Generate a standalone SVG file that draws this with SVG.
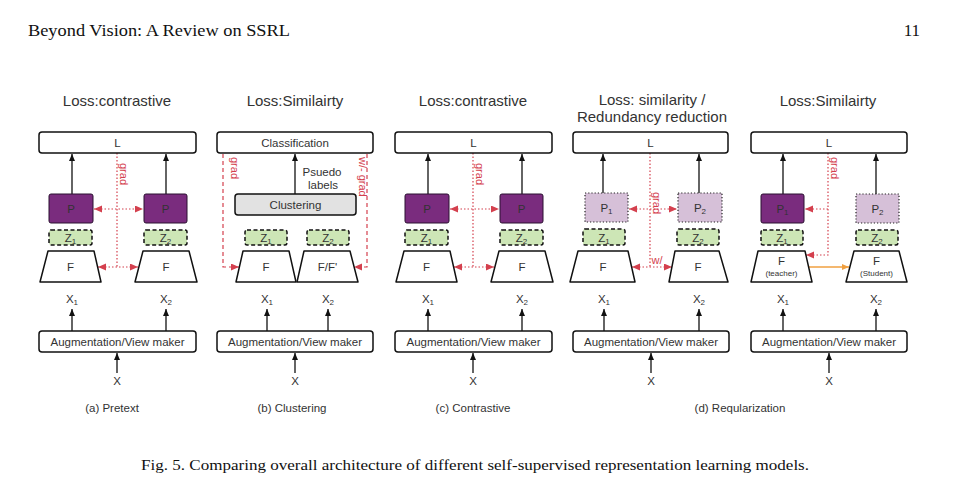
<svg xmlns="http://www.w3.org/2000/svg" width="976" height="489" viewBox="0 0 976 489">
<style>
.t{font-family:"Liberation Sans",Arial,sans-serif;fill:#333;text-anchor:middle}
.ti{font-size:15px}
.n{font-size:11.5px}
.sm{font-size:8px}
.box{fill:#fff;stroke:#111;stroke-width:1.5}
.pd{fill:#7a2c7e;stroke:#2a1030;stroke-width:1}
.pl{fill:#d6c0d8;stroke:#222;stroke-width:1.2;stroke-dasharray:1.2 2}
.z{fill:#cde6b6;stroke:#111;stroke-width:1.5;stroke-dasharray:4 2.5}
.f{fill:#fff;stroke:#111;stroke-width:1.5;stroke-linejoin:round}
.cl{fill:#e2e2e2;stroke:#111;stroke-width:1.5}
.a{stroke:#111;stroke-width:1.3;fill:none;marker-end:url(#ab)}
.r{stroke:#d4404e;stroke-width:1.2;fill:none;stroke-dasharray:1.5 2}
.rd{stroke:#d4404e;stroke-width:1.2;fill:none;stroke-dasharray:4 3}
.re{marker-end:url(#ar)}
.rs{marker-start:url(#ar)}
.rt{font-family:"Liberation Sans",Arial,sans-serif;fill:#d4404e;font-size:11px}
.serif{font-family:"Liberation Serif","Times New Roman",serif;fill:#111}
</style>
<defs>
<marker id="ab" markerUnits="userSpaceOnUse" markerWidth="8" markerHeight="8" refX="7" refY="3" orient="auto"><path d="M0,0 L7,3 L0,6 z" fill="#111"/></marker>
<marker id="ar" markerUnits="userSpaceOnUse" markerWidth="9" markerHeight="8" refX="8" refY="3.5" orient="auto-start-reverse"><path d="M0,0 L8,3.5 L0,7 z" fill="#d4404e"/></marker>
<marker id="ao" markerUnits="userSpaceOnUse" markerWidth="8" markerHeight="8" refX="7" refY="3" orient="auto"><path d="M0,0 L7,3 L0,6 z" fill="#f0a040"/></marker>
</defs>
<rect width="976" height="489" fill="#fff"/>
<g id="header">
<text class="serif" x="28" y="36" font-size="17" textLength="262" lengthAdjust="spacingAndGlyphs">Beyond Vision: A Review on SSRL</text>
<text class="serif" x="920" y="36" font-size="17" text-anchor="end">11</text>
</g>
<g id="caption"><text class="serif" x="141" y="470" font-size="14" textLength="668" lengthAdjust="spacingAndGlyphs">Fig. 5.  Comparing overall architecture of different self-supervised representation learning models.</text></g>

<g id="connectors">
<!-- panel a -->
<line class="a" x1="72" y1="194" x2="72" y2="154"/>
<line class="a" x1="166" y1="194" x2="166" y2="154"/>
<line class="a" x1="72" y1="331" x2="72" y2="309"/>
<line class="a" x1="166" y1="331" x2="166" y2="309"/>
<line class="a" x1="117" y1="373" x2="117" y2="353"/>
<line class="r" x1="117" y1="153" x2="117" y2="267"/>
<line class="r rs re" x1="94" y1="209" x2="143" y2="209"/>
<line class="r rs re" x1="98" y1="267" x2="138" y2="267"/>
<!-- panel b -->
<line class="a" x1="295" y1="194" x2="295" y2="154"/>
<line class="a" x1="267" y1="331" x2="267" y2="309"/>
<line class="a" x1="328" y1="331" x2="328" y2="309"/>
<line class="a" x1="295" y1="373" x2="295" y2="353"/>
<polyline class="rd re" points="223,154 223,267 239,267"/>
<polyline class="rd re" points="367,154 367,267 354,267"/>
<!-- panel c -->
<line class="a" x1="428" y1="194" x2="428" y2="154"/>
<line class="a" x1="522" y1="194" x2="522" y2="154"/>
<line class="a" x1="428" y1="331" x2="428" y2="309"/>
<line class="a" x1="522" y1="331" x2="522" y2="309"/>
<line class="a" x1="473" y1="373" x2="473" y2="353"/>
<line class="r" x1="473" y1="153" x2="473" y2="267"/>
<line class="r rs re" x1="450" y1="209" x2="499" y2="209"/>
<line class="r rs re" x1="454" y1="267" x2="494" y2="267"/>
<!-- panel d -->
<line class="a" x1="603" y1="193" x2="603" y2="154"/>
<line class="a" x1="699" y1="193" x2="699" y2="154"/>
<line class="a" x1="604" y1="331" x2="604" y2="309"/>
<line class="a" x1="699" y1="331" x2="699" y2="309"/>
<line class="a" x1="651" y1="373" x2="651" y2="353"/>
<line class="r" x1="650" y1="153" x2="650" y2="267"/>
<line class="r rs re" x1="629" y1="209" x2="677" y2="209"/>
<line class="r rs re" x1="632" y1="267" x2="672" y2="267"/>
<!-- panel e -->
<line class="a" x1="783" y1="194" x2="783" y2="154"/>
<line class="a" x1="876" y1="194" x2="876" y2="154"/>
<line class="a" x1="783" y1="331" x2="783" y2="309"/>
<line class="a" x1="876" y1="331" x2="876" y2="309"/>
<line class="a" x1="829" y1="373" x2="829" y2="353"/>
<polyline class="r re" points="828,153 828,255 806,255"/>
<line class="r re" x1="828" y1="209" x2="805" y2="209"/>
<line x1="809" y1="267" x2="849" y2="267" stroke="#f0a040" stroke-width="1.3" marker-end="url(#ao)"/>
</g>

<g id="edge-labels">
<text class="rt" transform="translate(119.5,163) rotate(90)">grad</text>
<text class="rt" transform="translate(231,157) rotate(90)">grad</text>
<text class="rt" transform="translate(359,157) rotate(90)">w/- grad</text>
<text class="rt" transform="translate(475.5,163) rotate(90)">grad</text>
<text class="rt" transform="translate(653,192) rotate(90)">grad</text>
<text class="rt" x="657" y="264" font-size="6.5" text-anchor="middle">w/</text>
<text class="rt" transform="translate(831,157) rotate(90)">grad</text>
<text class="t n" x="322" y="176">Psuedo</text>
<text class="t n" x="323" y="189">labels</text>
</g>

<!-- Panel a -->
<g id="a-title"><text class="t ti" x="117" y="106">Loss:contrastive</text></g>
<g id="a-L"><rect class="box" x="39" y="132" width="157" height="21" rx="3"/><text class="t n" x="117.5" y="147">L</text></g>
<g id="a-P1"><rect class="pd" x="49" y="194" width="44" height="29" rx="2"/><text class="t n" x="71" y="213">P</text></g>
<g id="a-P2"><rect class="pd" x="144" y="194" width="43" height="29" rx="2"/><text class="t n" x="165.5" y="213">P</text></g>
<g id="a-Z1"><rect class="z" x="49" y="230" width="43" height="15" rx="2"/><text class="t n" x="70.5" y="242">Z<tspan font-size="8" dy="2">1</tspan></text></g>
<g id="a-Z2"><rect class="z" x="144" y="230" width="43" height="15" rx="2"/><text class="t n" x="165.5" y="242">Z<tspan font-size="8" dy="2">2</tspan></text></g>
<g id="a-F1"><polygon class="f" points="48,251 94,251 101,282 40,282"/><text class="t n" x="70.5" y="271">F</text></g>
<g id="a-F2"><polygon class="f" points="143,251 189,251 197,282 135,282"/><text class="t n" x="166" y="271">F</text></g>
<g id="a-X1"><text class="t n" x="72" y="303">X<tspan font-size="8" dy="2">1</tspan></text></g>
<g id="a-X2"><text class="t n" x="166" y="303">X<tspan font-size="8" dy="2">2</tspan></text></g>
<g id="a-aug"><rect class="box" x="39" y="331" width="157" height="21" rx="3"/><text class="t n" x="117.5" y="346">Augmentation/View maker</text></g>
<g id="a-X"><text class="t n" x="117" y="385">X</text></g>
<g id="a-cap"><text class="t n" x="112" y="412">(a) Pretext</text></g>

<!-- Panel b -->
<g id="b-title"><text class="t ti" x="295" y="106">Loss:Similairty</text></g>
<g id="b-cls"><rect class="box" x="217" y="132" width="156" height="21" rx="3"/><text class="t n" x="295" y="147">Classification</text></g>
<g id="b-clu"><rect class="cl" x="235" y="194" width="121" height="21" rx="3"/><text class="t n" x="295.5" y="209">Clustering</text></g>
<g id="b-Z1"><rect class="z" x="245" y="230" width="42" height="15" rx="2"/><text class="t n" x="266" y="242">Z<tspan font-size="8" dy="2">1</tspan></text></g>
<g id="b-Z2"><rect class="z" x="307" y="230" width="42" height="15" rx="2"/><text class="t n" x="328" y="242">Z<tspan font-size="8" dy="2">2</tspan></text></g>
<g id="b-F1"><polygon class="f" points="243,251 289,251 296,282 236,282"/><text class="t n" x="266" y="271">F</text></g>
<g id="b-F2"><polygon class="f" points="304,251 350,251 358,282 297,282"/><text class="t n" x="327.5" y="271">F/F'</text></g>
<g id="b-X1"><text class="t n" x="267" y="303">X<tspan font-size="8" dy="2">1</tspan></text></g>
<g id="b-X2"><text class="t n" x="328" y="303">X<tspan font-size="8" dy="2">2</tspan></text></g>
<g id="b-aug"><rect class="box" x="217" y="331" width="156" height="21" rx="3"/><text class="t n" x="295" y="346">Augmentation/View maker</text></g>
<g id="b-X"><text class="t n" x="295" y="385">X</text></g>
<g id="b-cap"><text class="t n" x="292" y="412">(b) Clustering</text></g>

<!-- Panel c -->
<g id="c-title"><text class="t ti" x="473" y="106">Loss:contrastive</text></g>
<g id="c-L"><rect class="box" x="395" y="132" width="157" height="21" rx="3"/><text class="t n" x="473.5" y="147">L</text></g>
<g id="c-P1"><rect class="pd" x="405" y="194" width="44" height="29" rx="2"/><text class="t n" x="427" y="213">P</text></g>
<g id="c-P2"><rect class="pd" x="500" y="194" width="43" height="29" rx="2"/><text class="t n" x="521.5" y="213">P</text></g>
<g id="c-Z1"><rect class="z" x="405" y="230" width="43" height="15" rx="2"/><text class="t n" x="426.5" y="242">Z<tspan font-size="8" dy="2">1</tspan></text></g>
<g id="c-Z2"><rect class="z" x="500" y="230" width="43" height="15" rx="2"/><text class="t n" x="521.5" y="242">Z<tspan font-size="8" dy="2">2</tspan></text></g>
<g id="c-F1"><polygon class="f" points="404,251 450,251 457,282 396,282"/><text class="t n" x="426.5" y="271">F</text></g>
<g id="c-F2"><polygon class="f" points="499,251 545,251 553,282 491,282"/><text class="t n" x="522" y="271">F</text></g>
<g id="c-X1"><text class="t n" x="428" y="303">X<tspan font-size="8" dy="2">1</tspan></text></g>
<g id="c-X2"><text class="t n" x="522" y="303">X<tspan font-size="8" dy="2">2</tspan></text></g>
<g id="c-aug"><rect class="box" x="395" y="331" width="157" height="21" rx="3"/><text class="t n" x="473.5" y="346">Augmentation/View maker</text></g>
<g id="c-X"><text class="t n" x="473" y="385">X</text></g>
<g id="c-cap"><text class="t n" x="473" y="412">(c) Contrastive</text></g>

<!-- Panel d -->
<g id="d-title"><text class="t ti" x="652" y="105">Loss: similarity  /</text><text class="t ti" x="652" y="122">Redundancy reduction</text></g>
<g id="d-L"><rect class="box" x="573" y="132" width="155" height="21" rx="3"/><text class="t n" x="650.5" y="147">L</text></g>
<g id="d-P1"><rect class="pl" x="585" y="193" width="43" height="29"/><text class="t n" x="606.5" y="212">P<tspan font-size="8" dy="2">1</tspan></text></g>
<g id="d-P2"><rect class="pl" x="678" y="193" width="44" height="29"/><text class="t n" x="700" y="212">P<tspan font-size="8" dy="2">2</tspan></text></g>
<g id="d-Z1"><rect class="z" x="583" y="229" width="42" height="16" rx="2"/><text class="t n" x="604" y="241.5">Z<tspan font-size="8" dy="2">1</tspan></text></g>
<g id="d-Z2"><rect class="z" x="677" y="229" width="42" height="16" rx="2"/><text class="t n" x="698" y="241.5">Z<tspan font-size="8" dy="2">2</tspan></text></g>
<g id="d-F1"><polygon class="f" points="578,251 628,251 635,282 570,282"/><text class="t n" x="603" y="271">F</text></g>
<g id="d-F2"><polygon class="f" points="675,251 719,251 728,282 669,282"/><text class="t n" x="698" y="271">F</text></g>
<g id="d-X1"><text class="t n" x="604" y="303">X<tspan font-size="8" dy="2">1</tspan></text></g>
<g id="d-X2"><text class="t n" x="699" y="303">X<tspan font-size="8" dy="2">2</tspan></text></g>
<g id="d-aug"><rect class="box" x="573" y="331" width="156" height="21" rx="3"/><text class="t n" x="651" y="346">Augmentation/View maker</text></g>
<g id="d-X"><text class="t n" x="651" y="385">X</text></g>
<g id="d-cap"><text class="t n" x="740" y="412">(d) Reqularization</text></g>

<!-- Panel e -->
<g id="e-title"><text class="t ti" x="828" y="106">Loss:Similairty</text></g>
<g id="e-L"><rect class="box" x="751" y="132" width="156" height="21" rx="3"/><text class="t n" x="829" y="147">L</text></g>
<g id="e-P1"><rect class="pd" x="761" y="194" width="43" height="29" rx="2"/><text class="t n" x="782.5" y="213">P<tspan font-size="8" dy="2">1</tspan></text></g>
<g id="e-P2"><rect class="pl" x="856" y="194" width="43" height="29"/><text class="t n" x="877.5" y="213">P<tspan font-size="8" dy="2">2</tspan></text></g>
<g id="e-Z1"><rect class="z" x="761" y="230" width="42" height="15" rx="2"/><text class="t n" x="782" y="242">Z<tspan font-size="8" dy="2">1</tspan></text></g>
<g id="e-Z2"><rect class="z" x="856" y="230" width="42" height="15" rx="2"/><text class="t n" x="877" y="242">Z<tspan font-size="8" dy="2">2</tspan></text></g>
<g id="e-F1"><polygon class="f" points="758,251 805,251 812,282 751,282"/><text class="t n" x="781.5" y="265">F</text><text class="t sm" x="781.5" y="276">(teacher)</text></g>
<g id="e-F2"><polygon class="f" points="854,251 899,251 907,282 846,282"/><text class="t n" x="876.5" y="265">F</text><text class="t sm" x="876.5" y="276">(Student)</text></g>
<g id="e-X1"><text class="t n" x="783" y="303">X<tspan font-size="8" dy="2">1</tspan></text></g>
<g id="e-X2"><text class="t n" x="876" y="303">X<tspan font-size="8" dy="2">2</tspan></text></g>
<g id="e-aug"><rect class="box" x="751" y="331" width="156" height="21" rx="3"/><text class="t n" x="829" y="346">Augmentation/View maker</text></g>
<g id="e-X"><text class="t n" x="829" y="385">X</text></g>
</svg>
